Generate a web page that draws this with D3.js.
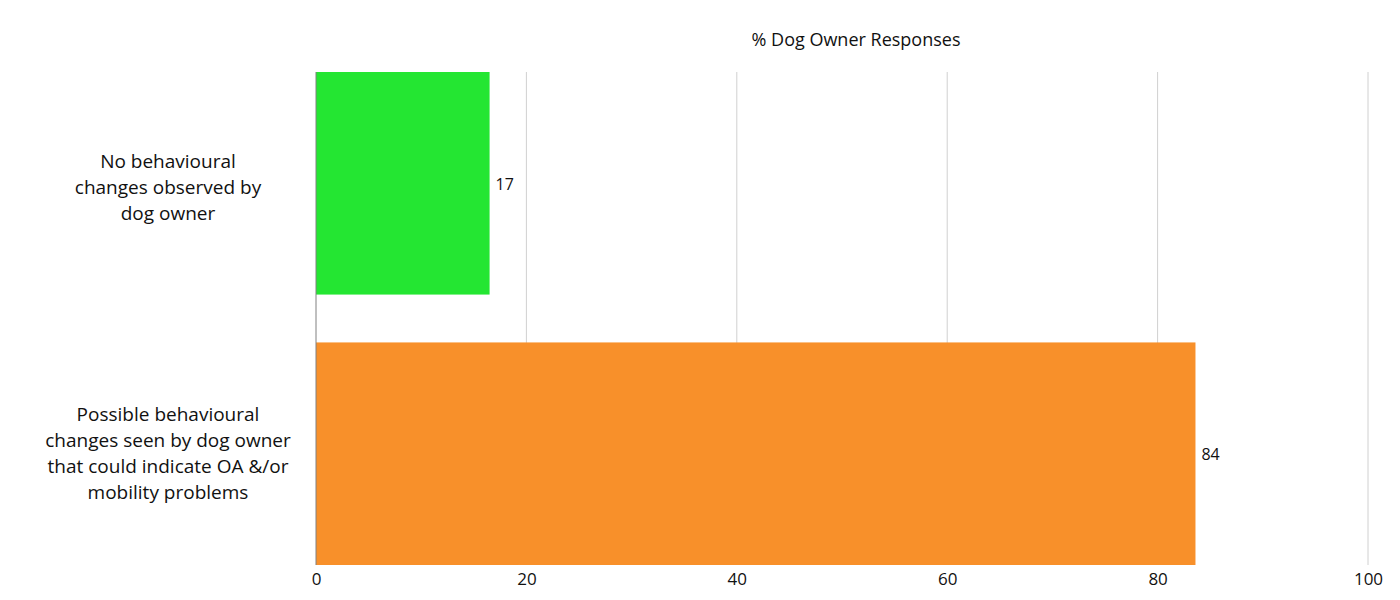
<!DOCTYPE html>
<html>
<head>
<meta charset="utf-8">
<title>% Dog Owner Responses</title>
<script src="https://cdn.jsdelivr.net/npm/d3@7"></script>
<style>
  body { margin: 0; background: #fff; }
  text { font-family: "Open Sans", Lato, sans-serif; fill: #111; }
</style>
</head>
<body>
<svg id="chart" width="1400" height="600"></svg>
<script>
// categories (each split into the lines shown on the chart)
const categories = [
  ["No behavioural", "changes observed by", "dog owner"],
  ["Possible behavioural", "changes seen by dog owner", "that could indicate OA &/or", "mobility problems"]
];
const values = [16.5, 83.6];
const valueLabels = ["17", "84"];
const barColors = ["#24e632", "#f8902a"];
const xTicks = [0, 20, 40, 60, 80, 100];
const axisTitle = "% Dog Owner Responses";

const width = 1400;
const height = 600;
const margin = {top: 72, right: 32, bottom: 35, left: 316};

const svg = d3.select("#chart");

const x = d3.scaleLinear()
  .domain([0, 100])
  .range([margin.left, width - margin.right]);

const y = d3.scaleBand()
  .domain(d3.range(categories.length))
  .range([margin.top, height - margin.bottom])
  .paddingInner(0.177)
  .paddingOuter(0);

// gridlines
svg.append("g")
  .selectAll("line")
  .data(xTicks.filter(d => d > 0))
  .join("line")
  .attr("x1", d => x(d))
  .attr("x2", d => x(d))
  .attr("y1", margin.top)
  .attr("y2", height - margin.bottom)
  .attr("stroke", "#d0d0d0")
  .attr("stroke-width", 1);

// bars
svg.append("g")
  .selectAll("rect")
  .data(values)
  .join("rect")
  .attr("x", x(0))
  .attr("y", (d, i) => y(i))
  .attr("width", d => x(d) - x(0))
  .attr("height", y.bandwidth())
  .attr("fill", (d, i) => barColors[i]);

// zero axis line
svg.append("line")
  .attr("x1", x(0))
  .attr("x2", x(0))
  .attr("y1", margin.top)
  .attr("y2", height - margin.bottom)
  .attr("stroke", "#808080")
  .attr("stroke-width", 1);

// value labels
svg.append("g")
  .selectAll("text")
  .data(values)
  .join("text")
  .attr("x", d => x(d) + 6)
  .attr("y", (d, i) => y(i) + y.bandwidth() / 2 + 1)
  .attr("dy", "0.35em")
  .attr("font-size", 16)
  .text((d, i) => valueLabels[i]);

// x axis tick labels
const xAxis = d3.axisBottom(x).tickValues(xTicks).tickSize(0).tickPadding(8);
const gx = svg.append("g")
  .attr("transform", "translate(0," + (height - margin.bottom) + ")")
  .call(xAxis);
gx.select(".domain").remove();
gx.selectAll("text")
  .attr("font-size", 17)
  .attr("font-family", "'DejaVu Sans', sans-serif")
  .attr("fill", "#111");

// category labels
const lineHeight = 26;
svg.append("g")
  .selectAll("text")
  .data(categories)
  .join("text")
  .attr("text-anchor", "middle")
  .attr("font-size", 19)
  .each(function (lines, i) {
    const cy = y(i) + y.bandwidth() / 2 + (lines.length === 3 ? 4 : 0);
    const startY = cy - (lines.length - 1) * lineHeight / 2;
    d3.select(this).selectAll("tspan")
      .data(lines)
      .join("tspan")
      .attr("x", 168)
      .attr("y", (l, j) => startY + j * lineHeight)
      .attr("dy", "0.35em")
      .text(l => l);
  });

// axis title
svg.append("text")
  .attr("x", (x(0) + x(100)) / 2 + 14)
  .attr("y", 40)
  .attr("dy", "0.35em")
  .attr("text-anchor", "middle")
  .attr("font-size", 18)
  .text(axisTitle);
</script>
</body>
</html>
